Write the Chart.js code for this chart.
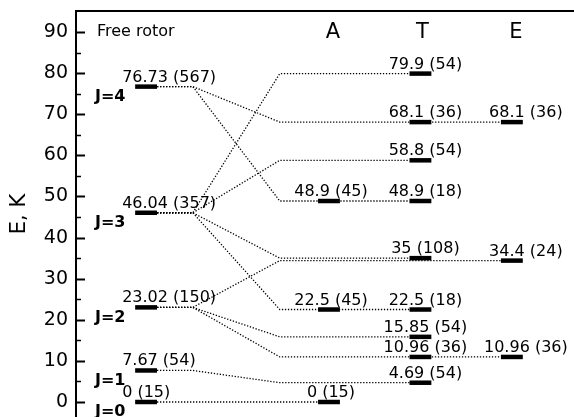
<!DOCTYPE html>
<html>
<head>
<meta charset="utf-8">
<script src="https://cdn.jsdelivr.net/npm/chart.js@4"></script>
<style>
  html, body { margin: 0; padding: 0; background: #fff; }
  #wrap { width: 574px; height: 417px; position: relative; }
</style>
</head>
<body>
<div id="wrap"><canvas id="c"></canvas></div>
<script>
// Free-rotor levels
const rotorJ = ['J=0', 'J=1', 'J=2', 'J=3', 'J=4'];
const rotorE = [0, 7.67, 23.02, 46.04, 76.73];
const rotorDeg = [15, 54, 150, 357, 567];

// Split levels by symmetry species
const aE = [0, 22.5, 48.9];
const aDeg = [15, 45, 45];
const tE = [4.69, 10.96, 15.85, 22.5, 35, 48.9, 58.8, 68.1, 79.9];
const tDeg = [54, 36, 54, 18, 108, 18, 54, 36, 54];
const eE = [10.96, 34.4, 68.1];
const eDeg = [36, 24, 36];

// Correlation lines: free-rotor level index -> split level energy
const linkFrom = [0, 1, 2, 2, 2, 3, 3, 3, 3, 4, 4];
const linkTo = [0, 4.69, 34.4, 15.85, 10.96, 79.9, 58.8, 35, 22.5, 68.1, 48.9];

const columnNames = ['Free rotor', 'A', 'T', 'E'];
const yTicks = [0, 10, 20, 30, 40, 50, 60, 70, 80, 90];

// Horizontal layout in x-scale units (0..100 across the plot)
const COL = { rotor: 13.9, A: 50.7, T: 69.1, E: 87.5 };
const HALF = 2.2;
const BEND1 = 23.3;
const BEND2 = 40.8;

const FONT = '"DejaVu Sans", "Liberation Sans", sans-serif';

function barSet(x, e) {
  return {
    data: [{ x: x - HALF, y: e }, { x: x + HALF, y: e }],
    borderColor: '#000', borderWidth: 4.5, borderCapStyle: 'butt',
    pointRadius: 0, order: 0
  };
}

const datasets = [];
rotorE.forEach(e => datasets.push(barSet(COL.rotor, e)));
aE.forEach(e => datasets.push(barSet(COL.A, e)));
tE.forEach(e => datasets.push(barSet(COL.T, e)));
eE.forEach(e => datasets.push(barSet(COL.E, e)));

linkFrom.forEach((j, k) => {
  const to = linkTo[k];
  const endX = eE.includes(to) ? COL.E : (tE.includes(to) ? COL.T : COL.A);
  const from = rotorE[j];
  datasets.push({
    data: [
      { x: COL.rotor + HALF, y: from },
      { x: BEND1, y: from },
      { x: BEND2, y: to },
      { x: endX - HALF, y: to }
    ],
    borderColor: '#000', borderWidth: 1.3, borderDash: [1.3, 1.7],
    pointRadius: 0, tension: 0, order: 1
  });
});

const annotate = {
  id: 'annotate',
  afterDraw(chart) {
    const { ctx, chartArea: area, scales: { x, y } } = chart;
    ctx.save();
    // frame: left axis and top edge
    ctx.strokeStyle = '#000';
    ctx.lineWidth = 2;
    ctx.beginPath();
    ctx.moveTo(area.left - 1, area.top);
    ctx.lineTo(area.left - 1, area.bottom);
    ctx.moveTo(area.left - 2, area.top);
    ctx.lineTo(area.right, area.top);
    ctx.stroke();
    // inward tick marks, minor every 5
    for (let v = 0; v <= 90; v += 5) {
      const py = Math.round(y.getPixelForValue(v)) + 0.5;
      const major = v % 10 === 0;
      ctx.lineWidth = major ? 2 : 1.5;
      ctx.beginPath();
      ctx.moveTo(area.left - 1, py);
      ctx.lineTo(area.left + (major ? 8 : 4), py);
      ctx.stroke();
    }

    ctx.fillStyle = '#000';
    // column headings
    const headY = y.getPixelForValue(90);
    ctx.textBaseline = 'middle';
    ctx.font = '16px ' + FONT;
    ctx.textAlign = 'left';
    ctx.fillText(columnNames[0], area.left + 20, headY);
    ctx.font = '21px ' + FONT;
    ctx.textAlign = 'center';
    ctx.fillText(columnNames[1], x.getPixelForValue(COL.A) + 4, headY);
    ctx.fillText(columnNames[2], x.getPixelForValue(COL.T) + 2, headY);
    ctx.fillText(columnNames[3], x.getPixelForValue(COL.E) + 4, headY);

    // J labels
    ctx.font = 'bold 16px ' + FONT;
    ctx.textAlign = 'left';
    rotorE.forEach((e, i) => {
      ctx.fillText(rotorJ[i], area.left + 18, y.getPixelForValue(e) + 10);
    });

    // energy (degeneracy) labels
    ctx.font = '16px ' + FONT;
    ctx.textBaseline = 'alphabetic';
    const lab = (e, d) => e + ' (' + d + ')';
    ctx.textAlign = 'left';
    rotorE.forEach((e, i) => {
      ctx.fillText(lab(e, rotorDeg[i]), x.getPixelForValue(COL.rotor - HALF) - 13, y.getPixelForValue(e) - 5);
    });
    ctx.textAlign = 'center';
    aE.forEach((e, i) => {
      ctx.fillText(lab(e, aDeg[i]), x.getPixelForValue(COL.A) + 2, y.getPixelForValue(e) - 5);
    });
    tE.forEach((e, i) => {
      ctx.fillText(lab(e, tDeg[i]), x.getPixelForValue(COL.T) + 5, y.getPixelForValue(e) - 5);
    });
    eE.forEach((e, i) => {
      ctx.fillText(lab(e, eDeg[i]), x.getPixelForValue(COL.E) + 14, y.getPixelForValue(e) - 5);
    });
    ctx.restore();
  }
};

new Chart(document.getElementById('c'), {
  type: 'line',
  data: { datasets },
  options: {
    responsive: true,
    maintainAspectRatio: false,
    animation: false,
    layout: { padding: { top: 11, right: 0, bottom: 0, left: 0 } },
    plugins: { legend: { display: false }, tooltip: { enabled: false } },
    scales: {
      x: { type: 'linear', display: false, min: 0, max: 100 },
      y: {
        type: 'linear',
        min: -3.65,
        max: 95.13,
        afterBuildTicks(scale) { scale.ticks = yTicks.map(v => ({ value: v })); },
        afterFit(scale) { scale.width = 77; scale.paddingTop = 0; scale.paddingBottom = 0; },
        grid: { display: false, drawTicks: false },
        border: { display: false },
        ticks: {
          color: '#000',
          padding: 9,
          font: { family: FONT, size: 19 }
        },
        title: {
          display: true,
          text: 'E, K',
          color: '#000',
          font: { family: FONT, size: 21 },
          padding: { top: 7, bottom: 0 }
        }
      }
    }
  },
  plugins: [annotate]
});
</script>
</body>
</html>
